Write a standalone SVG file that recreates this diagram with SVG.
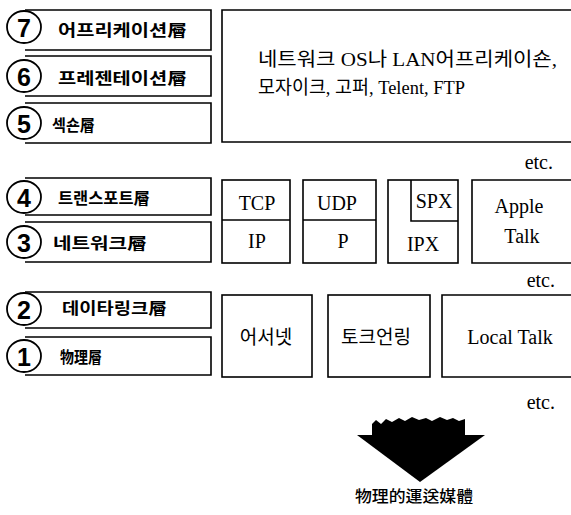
<svg xmlns="http://www.w3.org/2000/svg" width="571" height="515" viewBox="0 0 571 515">
<style>
.bx{fill:none;stroke:#000;stroke-width:1.6}
.cc{fill:#fff;stroke:#000;stroke-width:1.8}
.num{font-family:"Liberation Sans","DejaVu Sans",sans-serif;font-size:25px;font-weight:700;text-anchor:middle;dominant-baseline:central}
.lab{font-family:"Noto Sans CJK KR","Noto Sans",sans-serif;font-size:16px;font-weight:700;dominant-baseline:central}
.rt{font-family:"Liberation Serif","Noto Sans CJK KR",serif;font-size:20px;fill:#000;text-anchor:middle}
.big{font-size:19px;text-anchor:start}
.etc{font-family:"Liberation Serif",serif;font-size:20px;text-anchor:end}
.kr{font-family:"Noto Sans CJK KR","Liberation Serif",sans-serif;font-size:19px;text-anchor:middle}
.med{font-family:"Noto Sans CJK KR",sans-serif;font-size:16px;font-weight:500}
</style>
<rect width="571" height="515" fill="#fff"/>
<g id="layer7"><path class="bx" d="M25 10H211V50H25"/><ellipse class="cc" cx="24" cy="27" rx="17" ry="16"/><text class="num" x="24" y="28">7</text><text class="lab" x="58" y="29" textLength="129" lengthAdjust="spacingAndGlyphs">어프리케이션層</text></g>
<g id="layer6"><path class="bx" d="M25 56H211V96H25"/><ellipse class="cc" cx="24" cy="76" rx="17" ry="16"/><text class="num" x="24" y="77">6</text><text class="lab" x="58" y="77" textLength="129" lengthAdjust="spacingAndGlyphs">프레젠테이션層</text></g>
<g id="layer5"><path class="bx" d="M25 103H211V143H25"/><ellipse class="cc" cx="24" cy="123" rx="17" ry="16"/><text class="num" x="24" y="124">5</text><text class="lab" x="52" y="124" textLength="43" lengthAdjust="spacingAndGlyphs">섹숀層</text></g>
<g id="layer4"><path class="bx" d="M25 178H211V215H25"/><ellipse class="cc" cx="24" cy="197" rx="17" ry="16"/><text class="num" x="24" y="198">4</text><text class="lab" x="58" y="197" textLength="92" lengthAdjust="spacingAndGlyphs">트랜스포트層</text></g>
<g id="layer3"><path class="bx" d="M25 222H211V262H25"/><ellipse class="cc" cx="24" cy="242" rx="17" ry="16"/><text class="num" x="24" y="243">3</text><text class="lab" x="53" y="242" textLength="94" lengthAdjust="spacingAndGlyphs">네트워크層</text></g>
<g id="layer2"><path class="bx" d="M25 292H211V328H25"/><ellipse class="cc" cx="24" cy="309" rx="17" ry="16"/><text class="num" x="24" y="310">2</text><text class="lab" x="62" y="307" textLength="105" lengthAdjust="spacingAndGlyphs">데이타링크層</text></g>
<g id="layer1"><path class="bx" d="M25 337H211V375H25"/><ellipse class="cc" cx="24" cy="356" rx="17" ry="16"/><text class="num" x="24" y="357">1</text><text class="lab" x="60" y="356" textLength="42" lengthAdjust="spacingAndGlyphs">物理層</text></g>

<g id="apps"><path class="bx" d="M575 10H222V142H575"/>
<text class="rt big" x="258" y="66" textLength="299" lengthAdjust="spacingAndGlyphs">네트워크 OS나 LAN어프리케이숀,</text>
<text class="rt big" x="258" y="94" textLength="207" lengthAdjust="spacingAndGlyphs">모자이크, 고퍼, Telent, FTP</text>
<text class="etc" x="553" y="169">etc.</text></g>

<g id="tcpip"><rect class="bx" x="222" y="180" width="68" height="83"/><line class="bx" x1="222" y1="220" x2="290" y2="220"/>
<text class="rt" x="257" y="210">TCP</text><text class="rt" x="257" y="248">IP</text></g>
<g id="udp"><rect class="bx" x="303" y="180" width="73" height="83"/><line class="bx" x1="303" y1="220" x2="376" y2="220"/>
<text class="rt" x="337" y="210">UDP</text><text class="rt" x="343" y="248">P</text></g>
<g id="ipx"><rect class="bx" x="388" y="180" width="70" height="83"/><path class="bx" d="M411 180V221H458"/>
<text class="rt" x="434" y="208">SPX</text><text class="rt" x="423" y="251">IPX</text></g>
<g id="appletalk"><path class="bx" d="M575 180H472V263H575"/>
<text class="rt" x="519" y="213">Apple</text><text class="rt" x="522" y="243">Talk</text>
<text class="etc" x="555" y="287">etc.</text></g>

<g id="ethernet"><rect class="bx" x="222" y="295" width="90" height="82"/><text class="kr" x="266" y="344">어서넷</text></g>
<g id="tokenring"><rect class="bx" x="328" y="295" width="102" height="82"/><text class="kr" x="376" y="344">토크언링</text></g>
<g id="localtalk"><path class="bx" d="M575 295H442V377H575"/><text class="rt" x="510" y="344">Local Talk</text>
<text class="etc" x="555" y="409">etc.</text></g>

<g id="connectors">
<polygon fill="#000" points="372,435 372,424 376,420 381,424 386,419 392,422 399,418 405,421 412,417 419,420 426,418 432,421 440,417 447,420 453,418 459,421 465,419 465,435"/>
<polygon fill="#000" points="357,435 485,435 420,482"/>
</g>
<g id="medium"><text class="med" x="355" y="502" textLength="118" lengthAdjust="spacingAndGlyphs">物理的運送媒體</text></g>
</svg>
